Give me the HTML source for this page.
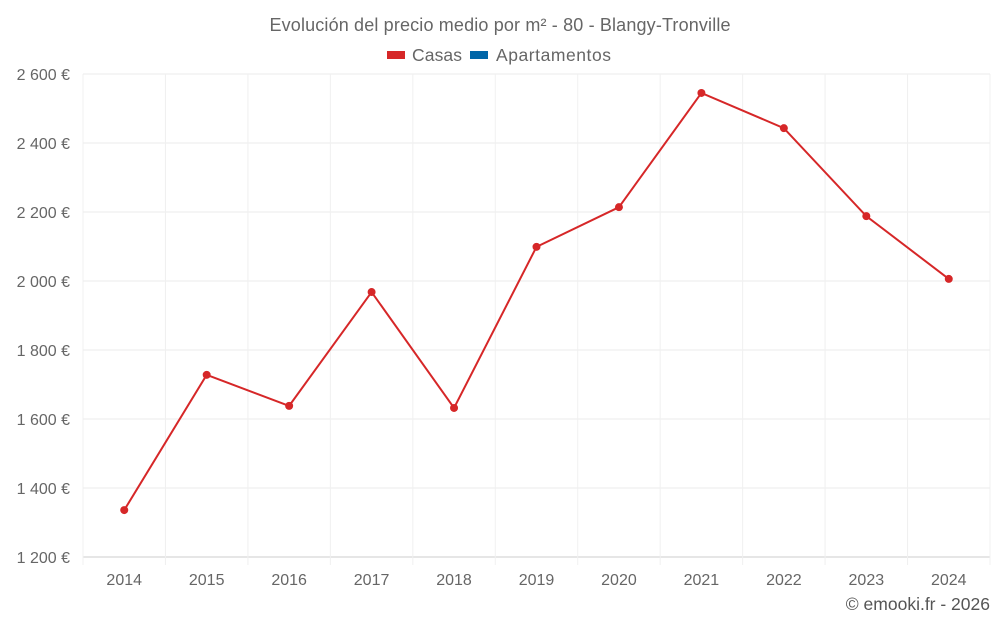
<!DOCTYPE html>
<html><head><meta charset="utf-8"><style>
body{margin:0;background:#fff;font-family:"Liberation Sans",sans-serif;}
svg text{font-family:"Liberation Sans",sans-serif;}
</style></head><body>
<svg id="c" width="1000" height="625">
<text x="500" y="31" text-anchor="middle" font-size="18" textLength="461" fill="#666">Evolución del precio medio por m² - 80 - Blangy-Tronville</text>
<g>
<g><rect x="387" y="51" width="18" height="8" fill="#d62728"/><text x="412" y="61" font-size="17.5" textLength="50" fill="#666">Casas</text></g>
<g><rect x="470" y="51" width="18" height="8" fill="#0066a8"/><text x="496" y="61" font-size="17.5" textLength="115" fill="#666">Apartamentos</text></g>
</g>
<g id="grid"></g>
<g id="axes"></g>
<g id="series"></g>
<text x="990" y="610" text-anchor="end" font-size="17.5" fill="#555">© emooki.fr - 2026</text>
</svg>
<script>
const years=["2014","2015","2016","2017","2018","2019","2020","2021","2022","2023","2024"];
const casas=[1336,1728,1638,1968,1632,2099,2214,2545,2443,2188,2006];
const yTicks=[1200,1400,1600,1800,2000,2200,2400,2600];
const L=83,R=990,T=74,B=557,yMin=1200,yMax=2600;
const ns="http://www.w3.org/2000/svg";
const bw=(R-L)/years.length;
const xs=i=>L+bw*(i+0.5);
const ys=v=>B-(v-yMin)/(yMax-yMin)*(B-T);
function mk(tag,attrs,parent){const e=document.createElementNS(ns,tag);for(const k in attrs)e.setAttribute(k,attrs[k]);document.getElementById(parent).appendChild(e);return e;}
yTicks.forEach(v=>{
 const l=mk('line',{x1:L,x2:R,y1:ys(v),y2:ys(v),stroke:v===yMin?'#ccc':'#ebebeb'},'grid');
 
 
 const t=mk('text',{x:70,y:ys(v)+6,'text-anchor':'end','font-size':16,fill:'#666'},'axes');
 t.textContent=v.toLocaleString('fr-FR').replace(/\u202f|\u00a0/g,' ')+' €';
 
 
});
for(let i=0;i<=years.length;i++){
 const l=mk('line',{x1:L+bw*i,x2:L+bw*i,y1:T,y2:B+8,stroke:'#f0f0f0'},'grid');
 
 
}
years.forEach((y,i)=>{
 const t=mk('text',{x:xs(i),y:585,'text-anchor':'middle','font-size':16,fill:'#666'},'axes');
 t.textContent=y;
 
 
});
const p=mk('polyline',{points:casas.map((v,i)=>xs(i)+','+ys(v)).join(' '),fill:'none',stroke:'#d62728','stroke-width':2},'series');


casas.forEach((v,i)=>{
 const c=mk('circle',{cx:xs(i),cy:ys(v),r:4,fill:'#d62728'},'series');
 
 
});
</script>
</body></html>
